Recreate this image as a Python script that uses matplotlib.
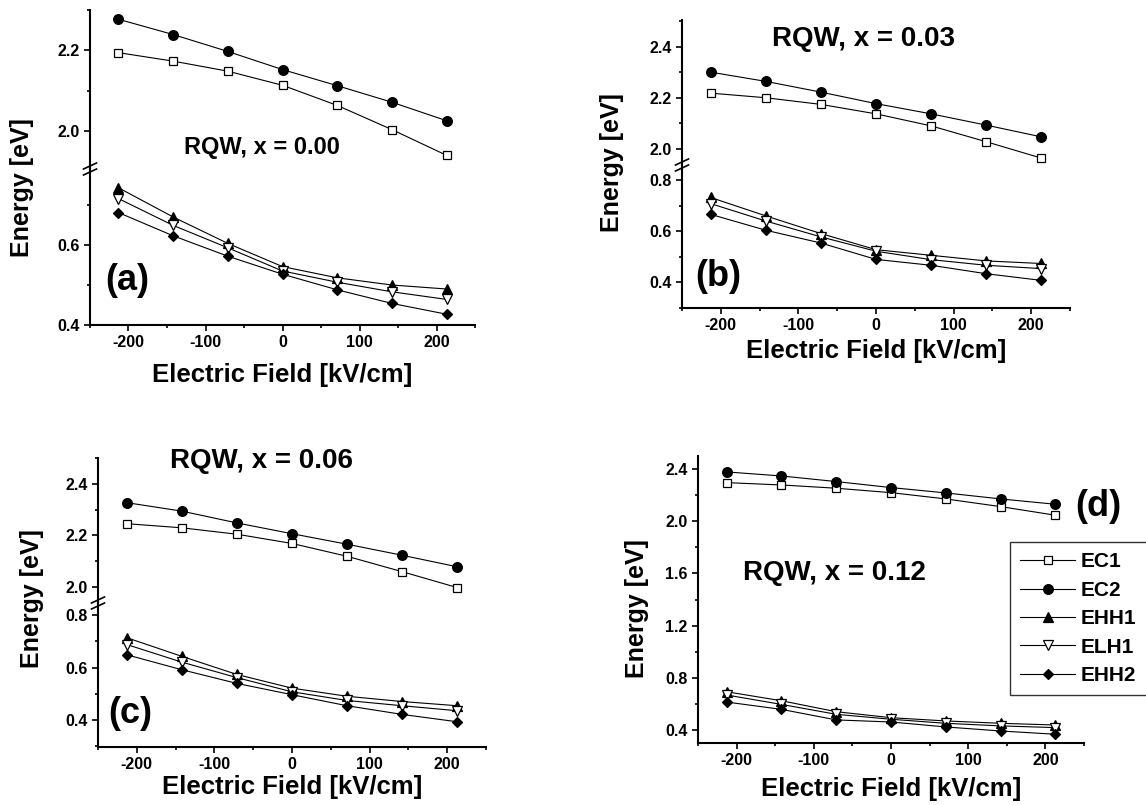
"""Subband energies vs electric field for RQW, four compositions (a)-(d)."""

import matplotlib
matplotlib.use('Agg')
import matplotlib.pyplot as plt
from matplotlib.ticker import MultipleLocator, FormatStrFormatter
from matplotlib.lines import Line2D

plt.rcParams['font.family'] = ['Liberation Sans', 'DejaVu Sans']
plt.rcParams['font.weight'] = 'bold'
plt.rcParams['axes.unicode_minus'] = False

# Electric field values [kV/cm]
field_kv = [-213, -142, -71, 0, 71, 142, 213]
labels = ['EC1', 'EC2', 'EHH1', 'ELH1', 'EHH2']

# (a) x = 0.00
a_ec1 = [2.194, 2.173, 2.148, 2.113, 2.063, 2.003, 1.939]
a_ec2 = [2.277, 2.239, 2.197, 2.152, 2.112, 2.071, 2.025]
a_ehh1 = [0.743, 0.670, 0.604, 0.546, 0.518, 0.500, 0.490]
a_elh1 = [0.716, 0.649, 0.593, 0.535, 0.507, 0.483, 0.464]
a_ehh2 = [0.681, 0.623, 0.572, 0.527, 0.488, 0.454, 0.427]

# (b) x = 0.03
b_ec1 = [2.218, 2.200, 2.174, 2.137, 2.090, 2.028, 1.964]
b_ec2 = [2.300, 2.264, 2.222, 2.177, 2.137, 2.093, 2.047]
b_ehh1 = [0.732, 0.660, 0.591, 0.528, 0.506, 0.484, 0.474]
b_elh1 = [0.708, 0.640, 0.578, 0.522, 0.489, 0.467, 0.454]
b_ehh2 = [0.666, 0.604, 0.554, 0.490, 0.467, 0.434, 0.408]

# (c) x = 0.06
c_ec1 = [2.245, 2.229, 2.204, 2.168, 2.118, 2.058, 1.996]
c_ec2 = [2.327, 2.294, 2.248, 2.206, 2.165, 2.122, 2.077]
c_ehh1 = [0.714, 0.643, 0.574, 0.522, 0.491, 0.471, 0.455]
c_elh1 = [0.688, 0.621, 0.562, 0.508, 0.475, 0.455, 0.436]
c_ehh2 = [0.649, 0.592, 0.540, 0.497, 0.455, 0.422, 0.394]

# (d) x = 0.12
d_ec1 = [2.296, 2.278, 2.253, 2.219, 2.171, 2.112, 2.046]
d_ec2 = [2.378, 2.347, 2.304, 2.258, 2.217, 2.171, 2.130]
d_ehh1 = [0.693, 0.624, 0.540, 0.494, 0.469, 0.451, 0.438]
d_elh1 = [0.668, 0.596, 0.520, 0.482, 0.451, 0.431, 0.418]
d_ehh2 = [0.614, 0.558, 0.477, 0.461, 0.423, 0.392, 0.367]

# marker style per level
styles = {
    'EC1': dict(marker='s', ms=6.2, mfc='white'),
    'EC2': dict(marker='o', ms=7.0, mfc='black'),
    'EHH1': dict(marker='^', ms=7.0, mfc='black'),
    'ELH1': dict(marker='v', ms=7.0, mfc='white'),
    'EHH2': dict(marker='D', ms=5.4, mfc='black'),
}

W, H = 1146, 805
fig = plt.figure(figsize=(W / 100, H / 100), dpi=100)


def box(x0, y0, x1, y1):
    # pixel box (top-left origin) -> figure fraction rect
    return [x0 / W, 1 - y1 / H, (x1 - x0) / W, (y1 - y0) / H]


def fx(x):
    return x / W


def fy(y):
    return 1 - y / H


def style_axis(ax):
    for s in ['top', 'right']:
        ax.spines[s].set_visible(False)
    for s in ['left', 'bottom']:
        ax.spines[s].set_linewidth(1.5)
    ax.tick_params(which='both', direction='out', width=1.2, labelsize=11.5)
    ax.tick_params(which='major', length=4)
    ax.tick_params(which='minor', length=2.5)
    ax.yaxis.set_major_formatter(FormatStrFormatter('%.1f'))


def style_xaxis(ax):
    ax.set_xlim(-250, 250)
    ax.xaxis.set_major_locator(MultipleLocator(100))
    ax.xaxis.set_minor_locator(MultipleLocator(50))
    ax.xaxis.set_major_formatter(FormatStrFormatter('%d'))


def draw(ax, name, values):
    return ax.plot(field_kv, values, color='black', lw=0.8, mec='black',
                   mew=0.9, label=name, **styles[name])[0]


def broken_panel(left, right, top, brk, bottom, hi_lim, lo_lim, major, upper, lower):
    ax_hi = fig.add_axes(box(left, top, right, brk))
    ax_lo = fig.add_axes(box(left, brk, right, bottom))
    for ax in (ax_hi, ax_lo):
        style_axis(ax)
        style_xaxis(ax)
        ax.yaxis.set_major_locator(MultipleLocator(major))
        ax.yaxis.set_minor_locator(MultipleLocator(major / 2))
    ax_hi.spines['bottom'].set_visible(False)
    ax_hi.tick_params(axis='x', which='both', bottom=False, labelbottom=False)
    ax_lo.spines['top'].set_visible(False)
    ax_hi.set_ylim(*hi_lim)
    ax_lo.set_ylim(*lo_lim)
    for name, vals in upper:
        draw(ax_hi, name, vals)
    for name, vals in lower:
        draw(ax_lo, name, vals)
    # break marks on the y axis
    for off in (-3, 3):
        fig.add_artist(Line2D([fx(left - 6.5), fx(left + 6.5)],
                              [fy(brk + off + 3), fy(brk + off - 3)],
                              color='black', lw=1.2))
    return ax_hi, ax_lo


# (a)
broken_panel(90, 475, 10, 169, 325, (1.905, 2.30), (0.40, 0.79), 0.2,
             [('EC1', a_ec1), ('EC2', a_ec2)],
             [('EHH1', a_ehh1), ('ELH1', a_elh1), ('EHH2', a_ehh2)])
# (b)
broken_panel(682, 1070, 20, 165, 308, (1.937, 2.504), (0.30, 0.859), 0.2,
             [('EC1', b_ec1), ('EC2', b_ec2)],
             [('EHH1', b_ehh1), ('ELH1', b_elh1), ('EHH2', b_ehh2)])
# (c)
broken_panel(98, 486, 458, 603, 747, (1.936, 2.501), (0.298, 0.846), 0.2,
             [('EC1', c_ec1), ('EC2', c_ec2)],
             [('EHH1', c_ehh1), ('ELH1', c_elh1), ('EHH2', c_ehh2)])

# (d) single axis
ax_d = fig.add_axes(box(698, 456, 1084, 743))
style_axis(ax_d)
style_xaxis(ax_d)
ax_d.set_ylim(0.3, 2.5)
ax_d.yaxis.set_major_locator(MultipleLocator(0.4))
ax_d.yaxis.set_minor_locator(MultipleLocator(0.2))
handles = []
for name, vals in zip(labels, [d_ec1, d_ec2, d_ehh1, d_elh1, d_ehh2]):
    handles.append(draw(ax_d, name, vals))
leg = ax_d.legend(handles=handles, loc='upper left',
                  bbox_to_anchor=(fx(1010), fy(542)), bbox_transform=fig.transFigure,
                  fancybox=False, framealpha=1, edgecolor='#333333', fontsize=15,
                  handlelength=2.6, handletextpad=0.3, borderpad=0.5,
                  labelspacing=0.45, borderaxespad=0, numpoints=1)
leg.get_frame().set_linewidth(1.0)

# axis labels
for x, y in [(282.5, 375), (876, 351), (292, 787), (891, 789)]:
    fig.text(fx(x), fy(y), 'Electric Field [kV/cm]', fontsize=18.5,
             ha='center', va='center')
for x, y in [(22, 187.5), (612, 162.5), (32, 599), (637, 609)]:
    fig.text(fx(x), fy(y), 'Energy [eV]', fontsize=18, rotation=90,
             ha='center', va='center')

# panel annotations
for txt, x, y, size in [('RQW, x = 0.00', 262, 147, 17),
                        ('RQW, x = 0.03', 864, 39, 20),
                        ('RQW, x = 0.06', 262, 461, 20),
                        ('RQW, x = 0.12', 834, 573, 20)]:
    fig.text(fx(x), fy(y), txt, fontsize=size, ha='center', va='center')
for txt, x, y in [('(a)', 127, 281), ('(b)', 718, 276),
                  ('(c)', 130, 713), ('(d)', 1098, 506)]:
    fig.text(fx(x), fy(y), txt, fontsize=26, ha='center', va='center')

fig.savefig('out.png', dpi=100)
